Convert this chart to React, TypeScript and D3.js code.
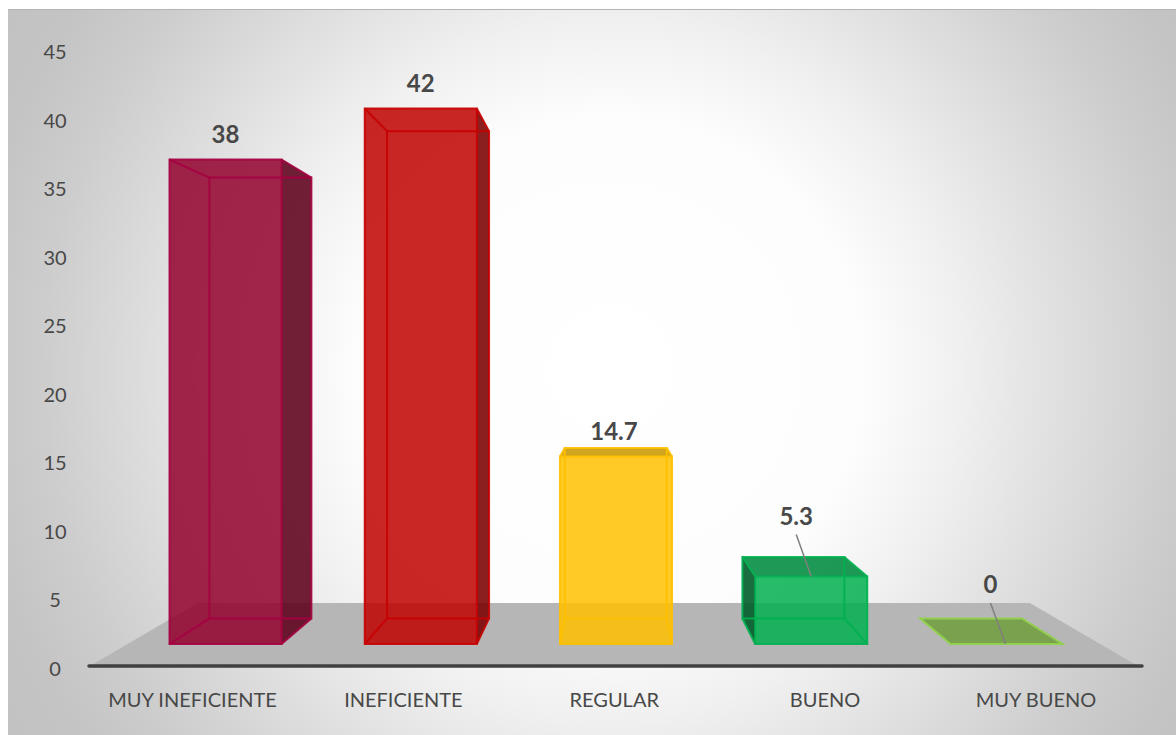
import React from "react";
import * as d3 from "d3";

const categories = ["MUY INEFICIENTE", "INEFICIENTE", "REGULAR", "BUENO", "MUY BUENO"];
const values = [38, 42, 14.7, 5.3, 0];
const valueLabels = ["38", "42", "14.7", "5.3", "0"];
const barColors = ["#93002D", "#C00000", "#FFC000", "#00B050", "#70A040"];
const barStrokes = ["#A50040", "#C80000", "#FFC000", "#00B050", "#92D050"];
const axisTicks = [0, 5, 10, 15, 20, 25, 30, 35, 40, 45];

const W = 1176;
const H = 735;
const VX = 613;
const VY = 360;
const BACK = 0.91;
const AXIS_ZOOM = 1.08;
const FLOOR_BACK = 0.794;

const xFront = d3.scaleBand<string>().domain(categories).range([169.5, 169.5 + 5 * 195.25 - 83.25]).paddingInner(0.426).paddingOuter(0).align(0);
const yFront = d3.scaleLinear().domain([0, 42]).range([644, 108.5]);
const yAxis = d3.scaleLinear().domain([0, 45]).range([668, 51]);

type P = [number, number];
const project = (p: P, k: number): P => [VX + k * (p[0] - VX), VY + k * (p[1] - VY)];
const poly = (pts: P[]) => d3.line()(pts)! + "Z";
const shade = (c: string, k: number) => d3.rgb(c).darker(k).formatHex();

// label placement relative to the top centre of each bar's front face
const labelShift: P[] = [[0, -25], [0, -25], [-2, -25], [-15, -60], [-16, -59]];
const hasLeader = [false, false, false, true, true];

const TEXT = "#484848";
const FONT = "Lato, 'Open Sans', sans-serif";

function Bar({ i }: { i: number }) {
  const name = categories[i];
  const v = values[i];
  const x0 = xFront(name)!;
  const x1 = x0 + xFront.bandwidth();
  const yt = yFront(v);
  const yb = yFront(0);
  const f: P[] = [[x0, yt], [x1, yt], [x1, yb], [x0, yb]];
  const b = f.map((p) => project(p, BACK));
  const c = barColors[i];
  const s = barStrokes[i];
  if (v === 0) {
    return <path d={poly([b[0], b[1], f[1], f[0]])} fill="#7AA24E" stroke={s} strokeWidth={2} />;
  }
  const faces: React.ReactNode[] = [];
  if (b[1][0] > f[1][0]) faces.push(<path key="r" d={poly([f[1], b[1], b[2], f[2]])} fill={shade(c, 1.25)} fillOpacity={0.88} />);
  if (b[0][0] < f[0][0]) faces.push(<path key="l" d={poly([f[0], b[0], b[3], f[3]])} fill={shade(c, 1.8)} fillOpacity={0.9} />);
  if (b[0][1] < f[0][1]) faces.push(<path key="t" d={poly([f[0], b[0], b[1], f[1]])} fill={shade(c, 0.65)} fillOpacity={0.88} />);
  return (
    <g>
      {faces}
      <path d={poly(f)} fill={c} fillOpacity={0.85} stroke="none" />
      <g fill="none" stroke={s} strokeWidth={2} strokeOpacity={0.9}>
        <path d={poly(b)} />
        {f.map((p, k) => <path key={k} d={d3.line()([p, b[k]])!} />)}
        <path d={poly(f)} />
      </g>
    </g>
  );
}

export default function App() {
  const axisY = 666;
  const axisL: P = [90, axisY];
  const axisR: P = [1138, axisY];
  const floor = [axisL, project(axisL, FLOOR_BACK), project(axisR, FLOOR_BACK), axisR];
  return (
    <svg width={W} height={H} style={{ position: "fixed", left: 0, top: 0, display: "block" }} fontFamily={FONT}>
      <defs>
        <radialGradient id="bg" gradientUnits="userSpaceOnUse" cx={610} cy={370} r={700}>
          <stop offset="0" stopColor="#ffffff" />
          <stop offset="0.36" stopColor="#fdfdfd" />
          <stop offset="0.5" stopColor="#f0f0f0" />
          <stop offset="0.64" stopColor="#e0e0e0" />
          <stop offset="0.81" stopColor="#cdcdcd" />
          <stop offset="0.92" stopColor="#c4c4c4" />
          <stop offset="1" stopColor="#c2c2c2" />
        </radialGradient>
      </defs>
      <rect x={0} y={0} width={W} height={H} fill="#ffffff" />
      <rect x={8} y={9} width={W - 8} height={H - 9} fill="url(#bg)" />
      <line x1={8} x2={W} y1={9.5} y2={9.5} stroke="#b4b4b4" strokeWidth={1} />
      <path d={poly(floor)} fill="#b6b6b6" />
      {axisTicks.map((t) => (
        <text key={t} x={55} y={yAxis(t) + 1} dy="0.35em" textAnchor="middle" fontSize={20} fill={TEXT}>{t}</text>
      ))}
      {categories.map((_, i) => <Bar key={i} i={i} />)}
      <line x1={89} x2={1142} y1={axisY} y2={axisY} stroke="#404040" strokeWidth={3.5} strokeLinecap="round" />
      {categories.map((c) => {
        const cx = xFront(c)! + xFront.bandwidth() / 2;
        const [lx] = project([cx, 668], AXIS_ZOOM);
        return <text key={c} x={lx - 2} y={700} dy="0.35em" textAnchor="middle" fontSize={20} fill={TEXT}>{c}</text>;
      })}
      {categories.map((c, i) => {
        const cx = xFront(c)! + xFront.bandwidth() / 2;
        const yt = yFront(values[i]);
        const tx = cx + labelShift[i][0];
        const ty = yt + labelShift[i][1];
        return (
          <g key={c}>
            {hasLeader[i] && (
              <line x1={tx} y1={ty + 18} x2={tx + 15} y2={yt} stroke="#7f7f7f" strokeWidth={1.5} />
            )}
            <text x={tx} y={ty} dy="0.35em" textAnchor="middle" fontSize={24} fontWeight={700} fill={TEXT}>{valueLabels[i]}</text>
          </g>
        );
      })}
    </svg>
  );
}
